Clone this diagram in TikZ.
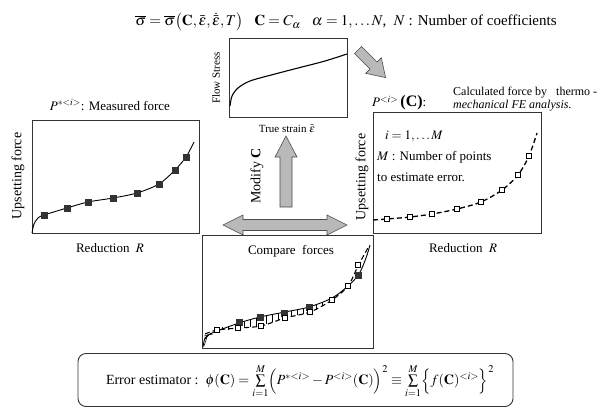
\documentclass[tikz,border=0pt]{standalone}
\usepackage{mathptmx}
\usepackage[no-math]{fontspec}
\setmainfont{Liberation Serif}
\usetikzlibrary{calc}
\begin{document}
\begin{tikzpicture}[x=1pt,y=-1pt,
  panel/.style={draw=black!80,line width=0.8pt},
  curveline/.style={line width=0.9pt},
  dashcurve/.style={line width=1.3pt,dash pattern=on 5pt off 3pt},
  fsq/.style={fill=black!80,draw=black!80,minimum size=5.5pt,inner sep=0pt},
  osq/.style={fill=white,draw=black,line width=0.6pt,minimum size=5.5pt,inner sep=0pt},
  fatarrow/.style={fill=gray!55,draw=black!70,line width=0.6pt},
  lbl/.style={inner sep=0pt,font=\fontsize{13}{15}\selectfont},
  slbl/.style={inner sep=0pt,font=\fontsize{11}{13}\selectfont}]
\useasboundingbox (0,0) rectangle (615,410);
\fill[white] (0,0) rectangle (615,410);

% top formula
\node[inner sep=0pt,font=\fontsize{15}{17}\selectfont] (topf) at (346,22) {$\overline{\sigma}=\overline{\sigma}\bigl(\mathbf{C},\bar{\varepsilon},\dot{\bar{\varepsilon}},T\bigr)$\ \ \ $\mathbf{C}=C_{\alpha}$\ \ \ $\alpha=1,\ldots N$,\ \ $N$ : Number of coefficients};

% top center graph
\node[panel,minimum width=118pt,minimum height=79pt,inner sep=0pt] (flow) at (288,77.5) {};
\draw[curveline,line width=1.1pt] plot[smooth] coordinates {(230,106) (232,96) (238,88) (250,81) (275,74) (300,67.5) (325,61) (347,54)};
\node[slbl,rotate=90] (flowlbl) at (216,78) {Flow Stress};
\node[slbl] (strainlbl) at (287,129) {True strain $\bar{\varepsilon}$};

% diagonal arrow
\begin{scope}[shift={(358,50)},rotate=-45]
\draw[fatarrow] (0,-5) -- (22,-5) -- (22,-11) -- (39,0) -- (22,11) -- (22,5) -- (0,5) -- cycle;
\end{scope}

% left graph
\node[lbl] (meas) at (110,105) {$P^{*<i>}$: Measured force};
\node[panel,minimum width=167pt,minimum height=113pt,inner sep=0pt] (left) at (115.5,176.5) {};
\draw[curveline] plot[smooth] coordinates {(32,233) (34,224) (38,218) (44,215) (67,208) (88,202) (113,198) (137,193) (159,184) (175,170) (186,157) (194,142)};
\foreach \p in {(44,215),(67,208),(88,202),(113,198),(137,193),(159,184),(175,170),(186,157)}
  \node[fsq] at \p {};
\node[lbl,font=\fontsize{14}{15}\selectfont,rotate=90] (lup) at (18,176) {Upsetting force};
\node[lbl] (lred) at (110,248) {Reduction \ $R$};

% right graph
\node[lbl,anchor=west] (pc) at (372,103) {$P^{<i>}$\,\textbf{\fontsize{16}{16}\selectfont(C)}:};
\node[inner sep=0pt,anchor=west,font=\fontsize{12}{13}\selectfont] (calc1) at (453,93) {Calculated force by \ \ thermo -};
\node[inner sep=0pt,anchor=west,font=\fontsize{12}{13}\selectfont\itshape] (calc2) at (453,106) {mechanical FE analysis.};
\node[panel,minimum width=168pt,minimum height=121pt,inner sep=0pt] (right) at (457,172.5) {};
\node[lbl,anchor=west] (ii) at (385,136) {$i=1,\ldots M$};
\node[lbl,anchor=west] (mm) at (377,157) {$M$ : Number of points};
\node[lbl,anchor=west] (mm2) at (377,177) {to estimate error.};
\draw[dashcurve] plot[smooth] coordinates {(373,220) (387,219) (410,217) (432,214) (457,209) (481,202) (502,190) (518,175) (529,156) (537,133)};
\foreach \p in {(387,219),(410,217),(432,214),(457,209),(481,202),(502,190),(518,175),(529,156)}
  \node[osq] at \p {};
\node[lbl,font=\fontsize{14}{15}\selectfont,rotate=90] (rup) at (362,177) {Upsetting force};
\node[lbl] (rred) at (463,248) {Reduction \ $R$};

% vertical arrow and label
\draw[fatarrow] (280,207) -- (280,157) -- (275,157) -- (286,136) -- (297,157) -- (292,157) -- (292,207) -- cycle;
\node[lbl,font=\fontsize{14}{15}\selectfont,rotate=90] (modc) at (257,176) {Modify \textbf{C}};

% double arrow
\draw[fatarrow] (223,225) -- (243,215) -- (243,219.5) -- (327,219.5) -- (327,215) -- (347,225) -- (327,235) -- (327,230.5) -- (243,230.5) -- (243,235) -- cycle;

% compare graph
\node[panel,minimum width=171pt,minimum height=113pt,inner sep=0pt] (comp) at (287.5,291.5) {};
\node[lbl] (cmplbl) at (291,251) {Compare \ forces};
\foreach \x/\ya/\yb in {222/327/330,228/326/329.5,244/321.5/327.6,250/319.5/327,256/317.5/326.5,266/315/324,272/314/322,278/313/320,291/311/316.5,297/310/315,303/308.5/313.5,316/305/310,322/302/306}
  \draw[line width=0.5pt] (\x,\ya) -- (\x,\yb);
\draw[line width=0.5pt] (204,346) -- (208,334) (204,340) -- (211,333) (204,336) -- (213,334);
\draw[curveline] plot[smooth] coordinates {(203,347) (205,338) (210,334) (217,331) (239,323) (260,317) (285,312) (309,307) (332,298) (348,286) (359,274) (366,258) (370,245)};
\draw[dashcurve,line width=1.1pt] plot[smooth] coordinates {(205,334) (217,330) (239,328) (261,326) (285,318) (310,312) (332,300) (348,286) (358,266) (364,255) (369,246)};
\foreach \p in {(239,322),(260,317),(284,313),(309,307),(358,275)}
  \node[fsq] at \p {};
\foreach \p in {(217,330),(238,328),(261,326),(285,318),(310,312),(332,300),(348,286),(358,265)}
  \node[osq] at \p {};

% error estimator box
\node[draw=black!80,line width=0.9pt,rounded corners=8pt,minimum width=435pt,minimum height=53pt,inner sep=0pt] (errbox) at (295.5,380) {};
\node[lbl,font=\fontsize{14}{16}\selectfont] (errtxt) at (300,381) {Error estimator :\ \ $\phi(\mathbf{C})=\sum\limits_{i=1}^{M}\Bigl(P^{*<i>}-P^{<i>}(\mathbf{C})\Bigr)^{2}\equiv\sum\limits_{i=1}^{M}\Bigl\{f(\mathbf{C})^{<i>}\Bigr\}^{2}$};
\end{tikzpicture}
\end{document}
